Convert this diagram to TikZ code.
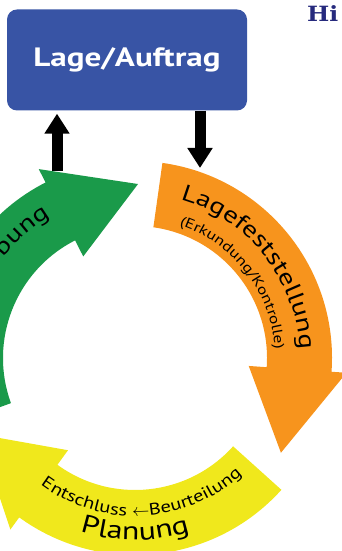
\documentclass[tikz,border=0pt]{standalone}
\usepackage{fontspec}
\setmainfont[FakeStretch=1.25]{PT Sans}
\newfontfamily\hifont[FakeStretch=1.12]{DejaVu Serif}
\usetikzlibrary{arrows.meta}
\usetikzlibrary{decorations.text}
\usetikzlibrary{positioning}

\definecolor{boxblue}{RGB}{56,84,165}
\definecolor{stepgreen}{RGB}{26,154,74}
\definecolor{steporange}{RGB}{247,148,29}
\definecolor{stepyellow}{RGB}{240,232,28}
\definecolor{hinavy}{RGB}{38,42,125}

\newcommand{\bigtxt}{\fontsize{23}{23}\selectfont}
\newcommand{\plantxt}{\fontsize{25.5}{25.5}\selectfont}
\newcommand{\midtxt}{\fontsize{16.5}{16.5}\selectfont}
\newcommand{\smalltxt}{\fontsize{14}{14}\selectfont}

% ring arrow: colour, tail angle, head angle, tip angle
\newcommand{\ringarrow}[4]{%
  \fill [#1] (#2:197pt) arc [start angle=#2, end angle=#3, radius=197pt]
    -- (#3:212pt) -- (#4:174pt) -- (#3:114pt) -- (#3:132pt)
    arc [start angle=#3, end angle=#2, radius=132pt] -- cycle;}

\begin{document}
\begin{tikzpicture}[
    thickarrow/.style={line width=11pt, -{Triangle[width=24pt,length=20pt]}},
    arctext/.style={decorate, decoration={text along path, text align=center, #1}}]
  \useasboundingbox (0,0) rectangle (342pt,551pt);
  \clip (0,0) rectangle (342pt,551pt);

  \node [fill=boxblue, rounded corners=10pt, minimum width=240pt, minimum height=101pt,
    text=white, font=\fontsize{26.5}{26.5}\bfseries\selectfont] (lage) at (127pt,491pt) {Lage/Auftrag};
  \node [anchor=north west, inner sep=0pt, text=hinavy,
    font=\hifont\fontsize{21}{21}\bfseries\selectfont] (hi) at (307pt,546pt) {Hi};

  \coordinate (upfoot) at (57pt,380pt);
  \coordinate (downtip) at (200pt,383pt);
  \draw [thickarrow, shorten >=3pt] (upfoot) -- (upfoot |- lage.south);
  \draw [thickarrow] (lage.south -| downtip) -- (downtip);

  \begin{scope}[shift={(135pt,193pt)}]
    \ringarrow{steporange}{82}{-4}{-33}
    \ringarrow{stepyellow}{318}{234}{206}
    \ringarrow{stepgreen}{200}{117}{89}

    \path [arctext={text={|\bigtxt|Lagefeststellung}}] (80:165pt) arc [start angle=80, end angle=-3, radius=165pt];
    \path [arctext={text={|\smalltxt|(Erkundung/Kontrolle)}}] (82:140pt) arc [start angle=82, end angle=-7, radius=140pt];
    \path [arctext={text={|\plantxt|Planung}}] (230:182pt) arc [start angle=230, end angle=310, radius=182pt];
    \path [arctext={text={|\midtxt|Entschluss {$\leftarrow$}Beurteilung}}] (224:158pt) arc [start angle=224, end angle=322, radius=158pt];
    \path [decorate, decoration={text along path, text align=right, text={|\bigtxt|bung}}] (175:165pt) arc [start angle=175, end angle=121, radius=165pt];
  \end{scope}
\end{tikzpicture}
\end{document}
